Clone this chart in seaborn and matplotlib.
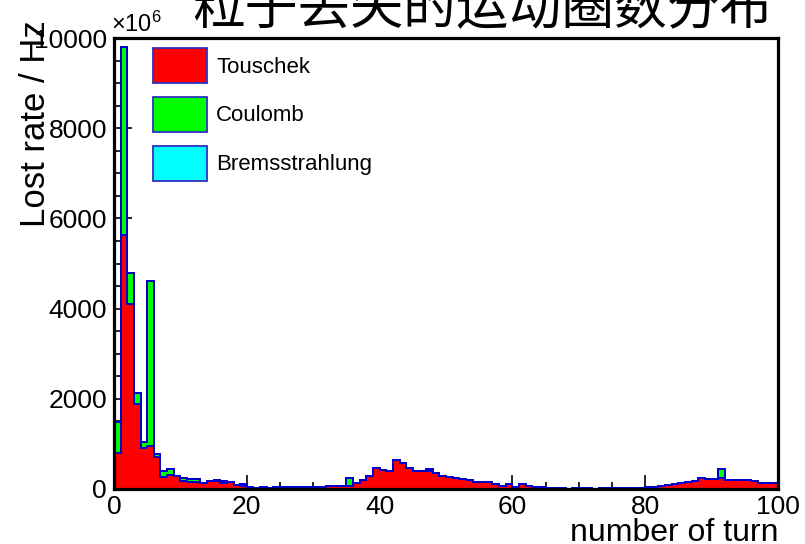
import numpy as np
import pandas as pd
import matplotlib
matplotlib.use("Agg")
import matplotlib.pyplot as plt
import seaborn as sns
from matplotlib.patches import Patch
from matplotlib.ticker import MultipleLocator

# ---- data (bin = number of turn, 1 turn per bin) ----
turn_bins = list(range(100))
touschek = [790, 5630, 4100, 1885, 900, 960, 720, 260, 300, 290,
            175, 155, 155, 140, 180, 180, 140, 160, 90, 70,
            45, 30, 15, 25, 35, 35, 45, 45, 35, 45,
            35, 45, 60, 60, 75, 75, 140, 195, 290, 470,
            420, 410, 645, 585, 470, 400, 395, 400, 360, 290,
            265, 235, 215, 210, 150, 150, 145, 115, 65, 100,
            55, 100, 75, 50, 50, 25, 25, 25, 5, 25,
            15, 15, 5, 15, 20, 20, 20, 20, 20, 20,
            40, 45, 60, 90, 120, 125, 150, 175, 235, 215,
            215, 235, 190, 200, 200, 200, 175, 140, 140, 140]
coulomb = [700, 4160, 700, 240, 135, 3660, 60, 150, 140, 0,
           75, 75, 60, 0, 0, 15, 40, 0, 0, 50,
           0, 0, 35, 0, 0, 0, 0, 0, 0, 0,
           0, 0, 0, 0, 0, 160, 0, 0, 0, 0,
           0, 0, 0, 0, 0, 0, 0, 45, 0, 0,
           0, 0, 0, 0, 0, 0, 0, 0, 0, 0,
           0, 0, 0, 0, 0, 0, 0, 0, 0, 0,
           0, 0, 0, 0, 0, 0, 0, 0, 0, 0,
           0, 0, 0, 0, 0, 0, 0, 0, 0, 0,
           0, 215, 0, 0, 0, 0, 0, 0, 0, 0]
bremsstrahlung = [0] * 100
processes = ["Touschek", "Coulomb", "Bremsstrahlung"]
colors = {"Touschek": "#ff0000", "Coulomb": "#00ff00", "Bremsstrahlung": "#00ffff"}

title = "粒子丢失的运动圈数分布"
xlabel = "number of turn"
ylabel = "Lost rate / Hz"

rows = []
for name, vals in zip(processes, [touschek, coulomb, bremsstrahlung]):
    for b, v in zip(turn_bins, vals):
        rows.append({"turn": b + 0.5, "rate": float(v), "process": name})
df = pd.DataFrame(rows)

sns.set_theme(style="white")
plt.rcParams["font.family"] = ["Liberation Sans", "DejaVu Sans"]
plt.rcParams["mathtext.fontset"] = "custom"
plt.rcParams["mathtext.rm"] = "Liberation Sans"
plt.rcParams["mathtext.it"] = "Liberation Sans:italic"
for k in ["text.color", "axes.labelcolor", "xtick.color", "ytick.color",
          "xtick.labelcolor", "ytick.labelcolor"]:
    plt.rcParams[k] = "black"

fig = plt.figure(figsize=(8.05, 5.44), dpi=100)
ax = fig.add_axes([114 / 805, 1 - 489 / 544, 664 / 805, 451 / 544])

edge = "#0000cc"
sns.histplot(data=df, x="turn", weights="rate", hue="process",
             hue_order=processes[::-1], multiple="stack",
             binwidth=1, binrange=(0, 100), element="step",
             palette=colors, edgecolor=edge, linewidth=1.4, alpha=1,
             legend=False, ax=ax)

ax.set_xlim(0, 100)
ax.set_ylim(0, 10000)
ax.set_axisbelow(True)

for s in ax.spines.values():
    s.set_visible(True)
    s.set_color("black")
    s.set_linewidth(2.3)
    s.set_zorder(5)

ax.xaxis.set_major_locator(MultipleLocator(20))
ax.xaxis.set_minor_locator(MultipleLocator(5))
ax.yaxis.set_major_locator(MultipleLocator(2000))
ax.yaxis.set_minor_locator(MultipleLocator(500))
ax.tick_params(axis="both", which="both", direction="in", color="black",
               top=False, right=False, bottom=True, left=True)
ax.tick_params(axis="x", which="major", length=10, width=1.2, pad=4, labelsize=19)
ax.tick_params(axis="x", which="minor", length=5, width=1.2)
ax.tick_params(axis="y", which="major", length=13, width=1.2, pad=5, labelsize=19)
ax.tick_params(axis="y", which="minor", length=6, width=1.2)

ax.set_xlabel(xlabel, loc="right", fontsize=23)
ax.xaxis.set_label_coords(1.0, -0.064)
ax.set_ylabel(ylabel, loc="top", fontsize=25)
ax.yaxis.set_label_coords(-0.093, 1.04)

ax.text(-0.004, 1.003, "×10$^{6}$", transform=ax.transAxes, ha="left",
        va="bottom", fontsize=17)

fig.text(482 / 805, 1 - 36 / 544, title, ha="center", va="bottom",
         fontsize=38, family=["Noto Sans CJK SC", "DejaVu Sans"])

handles = [Patch(facecolor=colors[p], edgecolor="#3030c0", linewidth=1.3)
           for p in processes]
leg = fig.legend(handles, processes, loc="upper left",
                 bbox_to_anchor=(153 / 805, 1 - 48 / 544),
                 frameon=False, fontsize=16, handlelength=2.45,
                 handleheight=2.05, labelspacing=0.62, handletextpad=0.4,
                 borderpad=0, borderaxespad=0)

fig.savefig("out.png", dpi=100)
